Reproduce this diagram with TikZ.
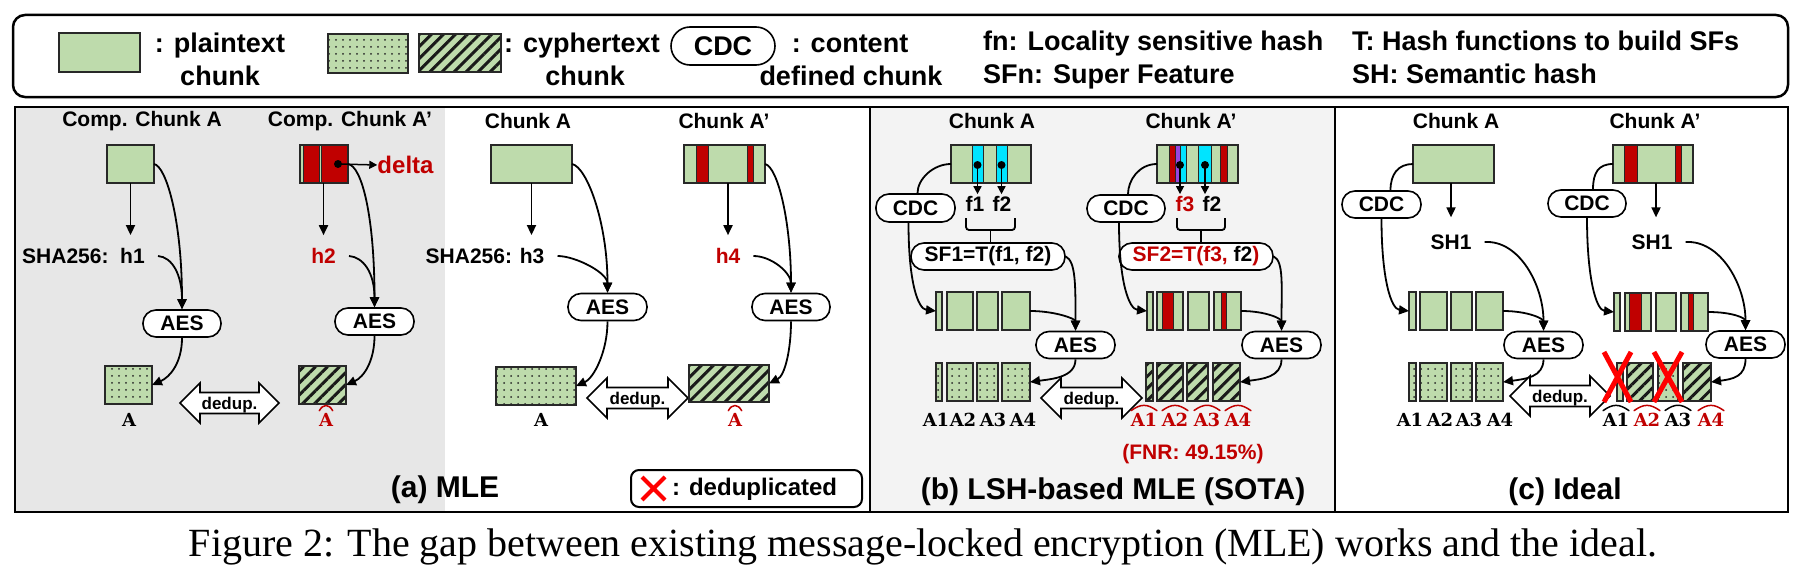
\documentclass[tikz,border=0pt]{standalone}
\usepackage{fontspec}
\newfontfamily\arial{Liberation Sans}
\newfontfamily\capfont{Liberation Serif}
\newfontfamily\slabfont{DejaVu Serif}
\usetikzlibrary{arrows.meta,patterns.meta}
\definecolor{pgreen}{RGB}{190,219,172}
\definecolor{dred}{RGB}{192,0,0}
\definecolor{xred}{RGB}{255,0,0}
\definecolor{cyanb}{RGB}{0,228,255}
\definecolor{purp}{RGB}{150,70,225}
\definecolor{graya}{RGB}{231,231,231}
\definecolor{grayb}{RGB}{243,243,243}
\definecolor{edge}{RGB}{40,40,40}
\newcommand\fsz[1]{\fontsize{#1}{#1}\selectfont}
\newcommand\band[5]{\filldraw[fill=#1,draw=edge,line width=0.8pt] (#2,#3) rectangle (#4,#5);}
\newcommand\ck[6]{\node[#2, minimum width={#4-#3}, minimum height={#6-#5}] (#1) at ({(#3+#4)/2},{(#5+#6)/2}) {};}
\newcommand\rebox[1]{\draw[draw=edge,line width=1.5pt] (#1.north west) rectangle (#1.south east);}
\newcommand\hatlab[5]{%
  \node[slab,text=#4] (#1) at (#2,#3) {#5};
  \draw[#4,line width=1.5pt,line join=round,line cap=round] ([xshift=0.5pt,yshift=2.5pt]#1.north west) .. controls ([xshift=-3pt,yshift=9.5pt]#1.north) and ([xshift=3pt,yshift=9.5pt]#1.north) .. ([xshift=-0.5pt,yshift=2.5pt]#1.north east);}
\newcommand\dedup[4]{%
  \draw[dd] (#2,#4) -- ({#2+20},{#4-20}) -- ({#2+20},{#4-10.5}) -- ({#3-20},{#4-10.5}) -- ({#3-20},{#4-20}) -- (#3,#4) -- ({#3-20},{#4+20}) -- ({#3-20},{#4+10.5}) -- ({#2+20},{#4+10.5}) -- ({#2+20},{#4+20}) -- cycle;
  \node[ddt,anchor=base] (#1) at ({(#2+#3)/2},{#4+6}) {dedup.};}
\begin{document}
\begin{tikzpicture}[x=1pt,y=-1pt,
  plain/.style={draw=edge,line width=1.5pt,fill=pgreen,inner sep=0pt,outer sep=0pt},
  dotc/.style={draw=edge,line width=1.5pt,inner sep=0pt,outer sep=0pt,preaction={fill=pgreen},pattern={Dots[distance=7pt,radius=1pt]},pattern color=black!85},
  hatc/.style={draw=edge,line width=1.5pt,inner sep=0pt,outer sep=0pt,preaction={fill=pgreen},pattern={Lines[angle=45,distance=8.5pt,line width=3pt]},pattern color=black!90},
  ttl/.style={font=\arial\bfseries\fsz{21},inner sep=0pt},
  hlab/.style={font=\arial\bfseries\fsz{21},inner xsep=13pt,inner ysep=0pt},
  pill/.style={draw=black,line width=1.6pt,fill=white,rounded corners=13pt,minimum height=27pt,inner sep=0pt,font=\arial\bfseries\fsz{21}},
  slab/.style={font=\slabfont\bfseries\fsz{18},inner sep=0pt},
  lg/.style={font=\arial\bfseries\fsz{27},inner sep=0pt},
  arr/.style={-{Triangle[length=10pt,width=9pt]},line width=1.8pt},
  sarr/.style={-{Triangle[length=8pt,width=8pt]},line width=1.5pt},
  ln/.style={line width=1.8pt},
  dd/.style={draw=black,fill=white,line width=1.6pt,line join=miter},
  ddt/.style={font=\arial\bfseries\fsz{17},inner sep=0pt},
  big/.style={font=\arial\bfseries\fsz{30},inner sep=0pt},
  dotn/.style={circle,fill=black,inner sep=0pt,minimum size=8pt}
]
\useasboundingbox (0,0) rectangle (1812,586);
% ---------------- legend
\draw[line width=2.5pt,rounded corners=12pt] (13,15) rectangle (1788,97);
\ck{lgP}{plain}{59}{140}{33}{72}
\node[lg,anchor=base] (lgPt1) at (220,52.5) {: plaintext};
\node[lg,anchor=base] (lgPt2) at (220,85) {chunk};
\ck{lgD}{dotc}{328}{408}{34}{73}
\ck{lgH}{hatc}{419}{501}{34}{72}
\node[lg,anchor=base] (lgCt1) at (582,52.5) {: cyphertext};
\node[lg,anchor=base] (lgCt2) at (585,85) {chunk};
\node[pill,font=\arial\bfseries\fsz{27},minimum width=104pt,minimum height=38pt,rounded corners=19pt] (lgCDC) at (723,46) {CDC};
\node[lg,anchor=base] (lgDt1) at (850,52.5) {: content};
\node[lg,anchor=base] (lgDt2) at (851,85) {defined chunk};
\node[lg,anchor=base west] (lgF1) at (983,51) {fn: Locality sensitive hash};
\node[lg,anchor=base west] (lgF2) at (983,83) {SFn: Super Feature};
\node[lg,anchor=base west] (lgT1) at (1352,51) {T: Hash functions to build SFs};
\node[lg,anchor=base west] (lgT2) at (1352,83) {SH: Semantic hash};
% ---------------- panel frames
\fill[graya] (15,107) rectangle (445,512);
\fill[grayb] (870,107) rectangle (1335,512);
\draw[line width=2pt] (15,107) rectangle (870,512);
\draw[line width=2pt] (870,107) rectangle (1335,512);
\draw[line width=2pt] (1335,107) rectangle (1788,512);
% ---------------- panel (a), compressed
\node[ttl] (tA1) at (142,121) {Comp. Chunk A};
\node[ttl] (tA2) at (350,121) {Comp. Chunk A’};
\ck{cA1}{plain}{107}{154}{145}{183}
\node[hlab] (sha1) at (83.5,256) {SHA256:\ \ h1};
\draw[arr,shorten >=13pt] (cA1.south) -- (cA1.south |- sha1.north);
\node[pill,minimum width=78pt] (aesA1) at (182,323.5) {AES};
\draw[arr] (cA1.east) .. controls +(12,2) and +(0,-90) .. (aesA1.north);
\draw[arr] (sha1.east) .. controls +(14,1) and +(0,-35) .. (aesA1.north);
\ck{dA1}{dotc}{105}{152}{366}{404}
\draw[arr] (aesA1.south) .. controls +(0,25) and +(18,-8) .. (dA1.east);
\node[slab] (lA1) at (129,420) {A};
\dedup{dd1}{180}{279}{403}
\ck{cA2}{plain}{300}{348}{145}{183}
\band{dred}{303.5}{145}{319}{183}
\band{dred}{321}{145}{348}{183}
\rebox{cA2}
\node[dotn] (dotA) at (338,164) {};
\node[font=\arial\bfseries\fsz{24},text=dred,inner sep=0pt] (delta) at (405.5,165) {delta};
\draw[sarr] (dotA.center) -- (delta.west);
\node[hlab,text=dred] (h2) at (323.5,256) {h2};
\draw[arr,shorten >=13pt] (h2.north |- cA2.south) -- (h2.north);
\node[pill,minimum width=79pt] (aesA2) at (374.5,321.5) {AES};
\draw[arr] (cA2.east) .. controls +(14,2) and +(0,-90) .. (aesA2.north);
\draw[arr] (h2.east) .. controls +(14,1) and +(0,-35) .. (aesA2.north);
\ck{hA2}{hatc}{299}{346}{366}{404}
\draw[arr] (aesA2.south) .. controls +(0,25) and +(18,-8) .. (hA2.east);
\hatlab{lA2}{326}{420}{dred}{A}
% ---------------- panel (a), plain
\node[ttl] (tA3) at (528,121) {Chunk A};
\node[ttl] (tA4) at (724,121) {Chunk A’};
\ck{cA3}{plain}{491}{572}{145}{183}
\node[hlab] (sha3) at (485,256) {SHA256: h3};
\draw[arr,shorten >=13pt] (cA3.south) -- (cA3.south |- sha3.north);
\node[pill,minimum width=79pt] (aesA3) at (607.5,307) {AES};
\draw[arr] (cA3.east) .. controls +(15,3) and +(0,-70) .. (aesA3.north);
\draw[arr] (sha3.east) .. controls +(18,0) and +(0,-20) .. (aesA3.north);
\ck{dA3}{dotc}{496}{576}{367}{405}
\draw[arr] (aesA3.south) .. controls +(0,30) and +(18,-8) .. (dA3.east);
\node[slab] (lA3) at (541,420) {A};
\dedup{dd2}{587}{688}{398}
\ck{cA4}{plain}{684}{765}{145}{183}
\band{dred}{696}{145}{708}{183}
\band{dred}{747}{145}{753}{183}
\rebox{cA4}
\node[hlab,text=dred] (h4) at (728,256) {h4};
\draw[arr,shorten >=13pt] (h4.north |- cA4.south) -- (h4.north);
\node[pill,minimum width=78pt] (aesA4) at (791,307) {AES};
\draw[arr] (cA4.east) .. controls +(13,3) and +(0,-70) .. (aesA4.north);
\draw[arr] (h4.east) .. controls +(18,0) and +(0,-20) .. (aesA4.north);
\ck{hA4}{hatc}{689}{769}{365}{402}
\draw[arr] (aesA4.south) .. controls +(0,28) and +(16,-8) .. (hA4.east);
\hatlab{lA4}{735}{420}{dred}{A}
\node[big] (capA) at (445,490) {(a) MLE};
\node[draw,line width=2pt,rounded corners=8pt,minimum width=231pt,minimum height=37pt,inner sep=0pt] (dlg) at (746.5,488.5) {};
\draw[xred,line width=4pt] (642,477) -- (665,500) (642,500) -- (665,477);
\node[font=\arial\bfseries\fsz{24},inner sep=0pt,anchor=west] (dlgt) at (672,489) {: deduplicated};
% ---------------- panel (b)
\node[ttl] (tB1) at (992,121) {Chunk A};
\node[ttl] (tB2) at (1191,121) {Chunk A’};
\ck{cB1}{plain}{951}{1031}{145}{183}
\band{cyanb}{972}{145}{983}{183}
\band{cyanb}{996}{145}{1007}{183}
\rebox{cB1}
\node[dotn] (dB1) at (977.5,165) {};
\node[dotn] (dB2) at (1001.5,165) {};
\node[ttl] (f1) at (975,204) {f1};
\node[ttl] (f2) at (1002,204) {f2};
\draw[sarr,shorten >=2pt] (dB1.center) -- (dB1.center |- f1.north);
\draw[sarr,shorten >=2pt] (dB2.center) -- (dB2.center |- f2.north);
\node[pill,minimum width=154pt] (sf1) at (988,256.5) {SF1=T(f1, f2)};
\draw[ln,rounded corners=3pt] (966,218) -- (966,230) -- (1015,230) -- (1015,218);
\draw[ln] (990.5,230) -- (sf1.north -| 990.5,0);
\node[pill,minimum width=79pt,minimum height=28pt] (cdc1) at (915.5,208) {CDC};
\draw[ln] (cB1.west) .. controls +(-18,0) and +(0,-14) .. ([xshift=2pt]cdc1.north);
\ck{b1s}{plain}{936}{942}{292}{330}
\ck{b1a}{plain}{947}{973}{292}{330}
\ck{b1b}{plain}{977}{998}{292}{330}
\ck{b1c}{plain}{1002}{1030}{292}{330}
\draw[arr] ([xshift=-7pt]cdc1.south) .. controls +(0,60) and +(-18,-2) .. (b1s.west);
\node[pill,minimum width=79pt] (aesB1) at (1075.5,345) {AES};
\draw[arr] (sf1.east) .. controls +(10,5) and +(0,-45) .. (aesB1.north);
\draw[arr] (b1c.east) .. controls +(25,0) and +(0,-12) .. (aesB1.north);
\ck{e1s}{dotc}{936}{942}{363}{401}
\ck{e1a}{dotc}{947}{973}{363}{401}
\ck{e1b}{dotc}{977}{998}{363}{401}
\ck{e1c}{dotc}{1002}{1030}{363}{401}
\draw[arr] (aesB1.south) .. controls +(0,18) and +(22,-3) .. (e1c.east);
\node[slab] (lb1) at (936,420) {A1};
\node[slab] (lb2) at (963,420) {A2};
\node[slab] (lb3) at (993,420) {A3};
\node[slab] (lb4) at (1023,420) {A4};
\dedup{dd3}{1041}{1142}{398}
\ck{cB2}{plain}{1157}{1238}{145}{183}
\band{dred}{1169}{145}{1175}{183}
\band{purp}{1175}{145}{1180}{183}
\band{cyanb}{1180}{145}{1186}{183}
\band{cyanb}{1198}{145}{1211}{183}
\band{dred}{1220}{145}{1227}{183}
\rebox{cB2}
\node[dotn] (dB3) at (1180,165) {};
\node[dotn] (dB4) at (1205,165) {};
\node[ttl,text=dred] (f3) at (1185,204) {f3};
\node[ttl] (f2b) at (1212,204) {f2};
\draw[sarr,shorten >=2pt] (dB3.center) -- (dB3.center |- f3.north);
\draw[sarr,shorten >=2pt] (dB4.center) -- (dB4.center |- f2b.north);
\node[pill,minimum width=154pt] (sf2) at (1196,256.5) {\textcolor{dred}{SF2=T(f3, }f2\textcolor{dred}{)}};
\draw[ln,rounded corners=3pt] (1177,218) -- (1177,230) -- (1225,230) -- (1225,218);
\draw[ln] (1201,230) -- (sf2.north -| 1201,0);
\node[pill,minimum width=78pt] (cdc2) at (1126,208.5) {CDC};
\draw[ln] (cB2.west) .. controls +(-18,0) and +(0,-14) .. ([xshift=2pt]cdc2.north);
\ck{b2s}{plain}{1147}{1153}{292}{330}
\ck{b2a}{plain}{1157}{1183}{292}{330}
\band{dred}{1162}{292}{1173}{330}
\rebox{b2a}
\ck{b2b}{plain}{1188}{1209}{292}{330}
\ck{b2c}{plain}{1214}{1241}{292}{330}
\band{dred}{1221}{292}{1226}{330}
\rebox{b2c}
\draw[arr] ([xshift=-7pt]cdc2.south) .. controls +(0,60) and +(-18,-2) .. (b2s.west);
\node[pill,minimum width=79pt] (aesB2) at (1281.5,345) {AES};
\draw[arr] (sf2.east) .. controls +(10,5) and +(0,-45) .. (aesB2.north);
\draw[arr] (b2c.east) .. controls +(25,0) and +(0,-12) .. (aesB2.north);
\ck{e2s}{hatc}{1146}{1153}{363}{401}
\ck{e2a}{hatc}{1157}{1183}{363}{401}
\ck{e2b}{hatc}{1187}{1208}{363}{401}
\ck{e2c}{hatc}{1213}{1240}{363}{401}
\draw[arr] (aesB2.south) .. controls +(0,18) and +(22,-3) .. (e2c.east);
\hatlab{lh1}{1144}{420}{dred}{A1}
\hatlab{lh2}{1175}{420}{dred}{A2}
\hatlab{lh3}{1207}{420}{dred}{A3}
\hatlab{lh4}{1238}{420}{dred}{A4}
\node[font=\arial\bfseries\fsz{21},text=dred,inner sep=0pt] (fnr) at (1193,454) {(FNR: 49.15\%)};
\node[big] (capB) at (1113,492) {(b) LSH-based MLE (SOTA)};
% ---------------- panel (c)
\node[ttl] (tC1) at (1456,121) {Chunk A};
\node[ttl] (tC2) at (1655,121) {Chunk A’};
\ck{cC1}{plain}{1413}{1494}{145}{183}
\node[hlab] (sh1a) at (1451,242) {SH1};
\draw[arr,shorten >=17pt] (sh1a.north |- cC1.south) -- (sh1a.north);
\node[pill,minimum width=79pt] (cdc3) at (1381.5,204.5) {CDC};
\draw[ln] (cC1.west) .. controls +(-15,0) and +(0,-16) .. ([xshift=9pt]cdc3.north);
\ck{c1s}{plain}{1409}{1416}{292}{330}
\ck{c1a}{plain}{1420}{1447}{292}{330}
\ck{c1b}{plain}{1451}{1472}{292}{330}
\ck{c1c}{plain}{1476}{1503}{292}{330}
\draw[arr] (cdc3.south) .. controls +(0,60) and +(-18,-2) .. (c1s.west);
\node[pill,minimum width=79pt] (aesC1) at (1543.5,345) {AES};
\draw[arr] (sh1a.east) .. controls +(35,-2) and +(0,-45) .. (aesC1.north);
\draw[arr] (c1c.east) .. controls +(25,0) and +(0,-12) .. (aesC1.north);
\ck{g1s}{dotc}{1409}{1416}{363}{401}
\ck{g1a}{dotc}{1420}{1447}{363}{401}
\ck{g1b}{dotc}{1451}{1472}{363}{401}
\ck{g1c}{dotc}{1476}{1503}{363}{401}
\draw[arr] (aesC1.south) .. controls +(0,18) and +(22,-3) .. (g1c.east);
\node[slab] (lc1) at (1410,420) {A1};
\node[slab] (lc2) at (1440,420) {A2};
\node[slab] (lc3) at (1469,420) {A3};
\node[slab] (lc4) at (1500,420) {A4};
\dedup{dd4}{1510}{1610}{396}
\ck{cC2}{plain}{1613}{1693}{145}{183}
\band{dred}{1624}{145}{1637}{183}
\band{dred}{1675}{145}{1681}{183}
\rebox{cC2}
\node[hlab] (sh1b) at (1652,242) {SH1};
\draw[arr,shorten >=17pt] ([xshift=4pt]sh1b.north |- cC2.south) -- ([xshift=4pt]sh1b.north);
\node[pill,minimum width=78pt] (cdc4) at (1587,203.5) {CDC};
\draw[ln] (cC2.west) .. controls +(-15,0) and +(0,-16) .. ([xshift=6pt]cdc4.north);
\ck{c2s}{plain}{1614}{1620}{293}{331}
\ck{c2a}{plain}{1625}{1651}{293}{331}
\band{dred}{1629}{293}{1641}{331}
\rebox{c2a}
\ck{c2b}{plain}{1656}{1676}{293}{331}
\ck{c2c}{plain}{1681}{1708}{293}{331}
\band{dred}{1688}{293}{1693}{331}
\rebox{c2c}
\draw[arr] (cdc4.south) .. controls +(0,60) and +(-18,-2) .. (c2s.west);
\node[pill,minimum width=79pt] (aesC2) at (1745.5,344.5) {AES};
\draw[arr] (sh1b.east) .. controls +(35,-2) and +(0,-45) .. (aesC2.north);
\draw[arr] (c2c.east) .. controls +(25,0) and +(0,-12) .. (aesC2.north);
\ck{g2s}{dotc}{1617}{1623}{363}{401}
\ck{g2a}{hatc}{1627}{1653}{363}{401}
\ck{g2b}{dotc}{1658}{1678}{363}{401}
\ck{g2c}{hatc}{1683}{1711}{363}{401}
\draw[arr] (aesC2.south) .. controls +(0,18) and +(22,-3) .. (g2c.east);
\draw[xred,line width=5pt] (1604,352) -- (1631,402) (1604,402) -- (1631,352);
\draw[xred,line width=5pt] (1654,352) -- (1682,402) (1654,402) -- (1682,352);
\hatlab{lk1}{1616}{420}{black}{A1}
\hatlab{lk2}{1647}{420}{dred}{A2}
\hatlab{lk3}{1678}{420}{black}{A3}
\hatlab{lk4}{1711}{420}{dred}{A4}
\node[big] (capC) at (1565,492) {(c) Ideal};
% ---------------- caption
\node[font=\capfont\fsz{40},inner sep=0pt,anchor=base] (cap) at (923,556) {Figure 2: The gap between existing message-locked encryption (MLE) works and the ideal.};
\end{tikzpicture}
\end{document}
